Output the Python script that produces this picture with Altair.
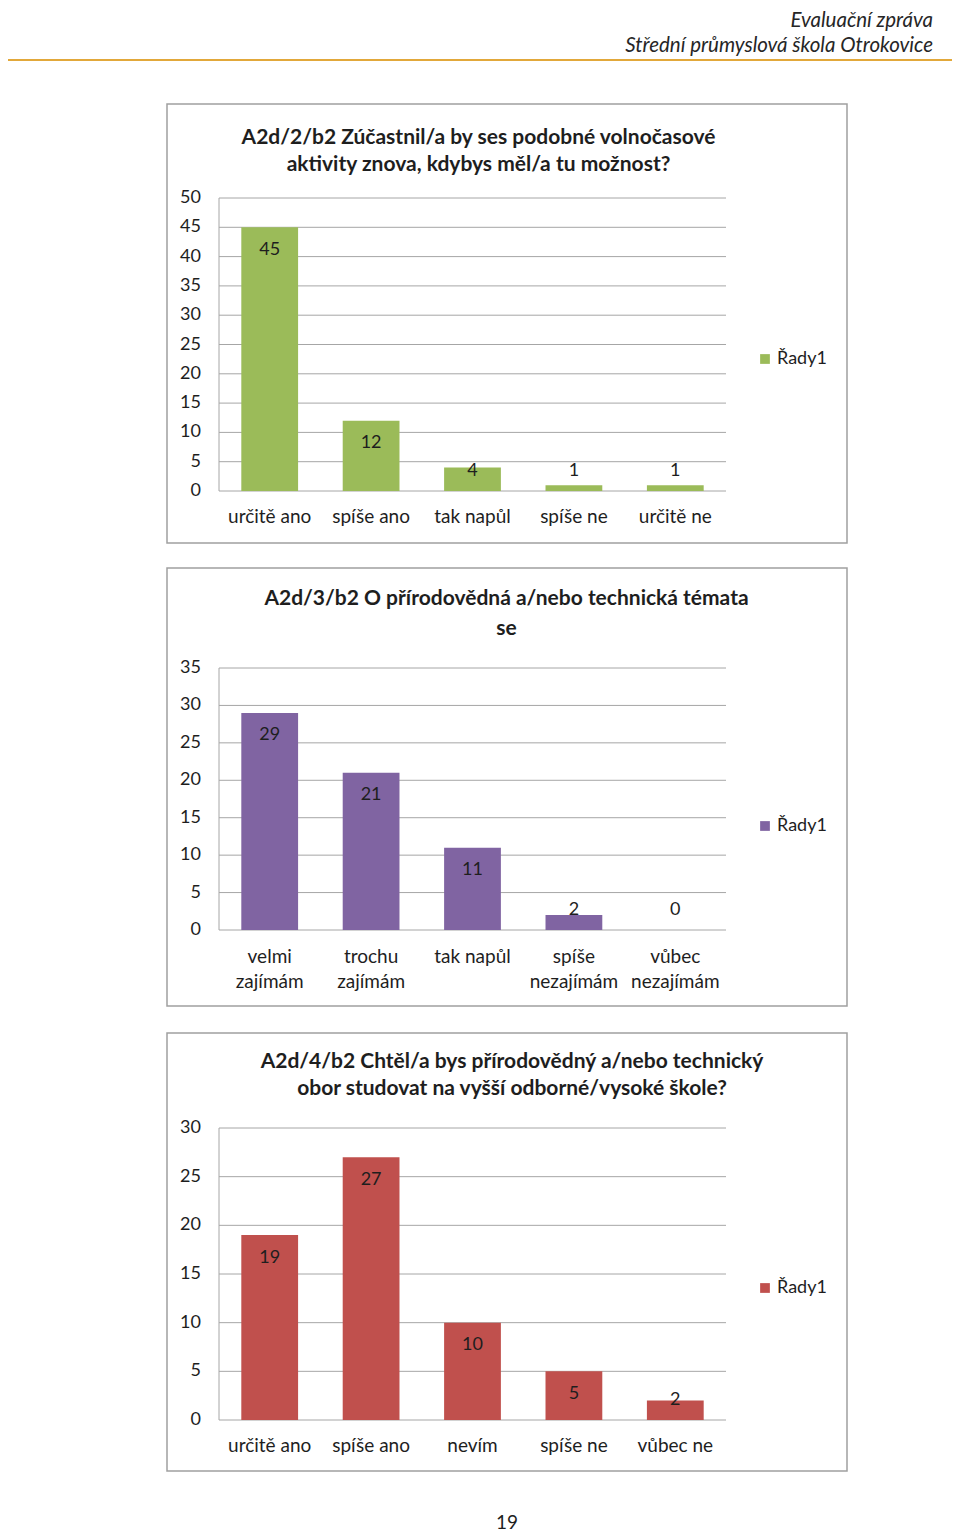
import altair as alt
import pandas as pd

OFF = 8          # page margin (page px -> chart px)
FONT = "Lato"
TXT = "#1e1e1e"
GRID = "#A6A6A6"
W, H = 944, 1524

# ---------------- data ----------------
cats1 = ["určitě ano", "spíše ano", "tak napůl", "spíše ne", "určitě ne"]
vals1 = [45, 12, 4, 1, 1]
ticks1 = [0, 5, 10, 15, 20, 25, 30, 35, 40, 45, 50]
title1 = ["A2d/2/b2 Zúčastnil/a by ses podobné volnočasové",
          "aktivity znova, kdybys měl/a tu možnost?"]

cats2 = ["velmi zajímám", "trochu zajímám", "tak napůl", "spíše nezajímám", "vůbec nezajímám"]
line1_2 = ["velmi", "trochu", "tak napůl", "spíše", "vůbec"]
line2_2 = ["zajímám", "zajímám", "", "nezajímám", "nezajímám"]
vals2 = [29, 21, 11, 2, 0]
ticks2 = [0, 5, 10, 15, 20, 25, 30, 35]
title2 = ["A2d/3/b2 O přírodovědná a/nebo technická témata", "se"]

cats3 = ["určitě ano", "spíše ano", "nevím", "spíše ne", "vůbec ne"]
vals3 = [19, 27, 10, 5, 2]
ticks3 = [0, 5, 10, 15, 20, 25, 30]
title3 = ["A2d/4/b2 Chtěl/a bys přírodovědný a/nebo technický",
          "obor studovat na vyšší odborné/vysoké škole?"]

series_name = "Řady1"
header_lines = ["Evaluační zpráva", "Střední průmyslová škola Otrokovice"]
page_no = "19"

one = pd.DataFrame({"a": [0]})


def panel(cats, l1, l2, vals, ticks, ymax, color, title_lines, g):
    ysc = alt.Scale(domain=[0, ymax], range=[g["y0"] - OFF, g["y1"] - OFF], nice=False, zero=True)
    xsc = alt.Scale(domain=cats, range=[g["x0"] - OFF, g["x1"] - OFF],
                    paddingInner=0.44, paddingOuter=0.22)
    k = (g["y0"] - g["y1"]) / ymax
    df = pd.DataFrame({"cat": cats, "value": vals, "l1": l1, "l2": l2,
                       "series": [series_name] * len(cats)})
    tdf = pd.DataFrame({"t": ticks})

    border = alt.Chart(one).mark_rect(fill="white", stroke="#A0A0A0", strokeWidth=1.5).encode(
        x=alt.value(g["bx0"] - OFF), x2=alt.value(g["bx1"] - OFF),
        y=alt.value(g["by0"] - OFF), y2=alt.value(g["by1"] - OFF))
    grid = alt.Chart(tdf).mark_rule(color=GRID, strokeWidth=1).encode(
        y=alt.Y("t:Q", scale=ysc, axis=None),
        x=alt.value(g["x0"] - OFF), x2=alt.value(g["x1"] - OFF))
    yline = alt.Chart(one).mark_rule(color=GRID, strokeWidth=1).encode(
        x=alt.value(g["x0"] - OFF),
        y=alt.value(g["y1"] - OFF), y2=alt.value(g["y0"] - OFF))
    ylabels = alt.Chart(tdf).mark_text(align="right", baseline="middle", font=FONT,
                                       fontSize=18, color=TXT).encode(
        y=alt.Y("t:Q", scale=ysc, axis=None), x=alt.value(g["lx"] - OFF), text="t:Q")
    bars = alt.Chart(df).mark_bar().encode(
        x=alt.X("cat:N", scale=xsc, axis=None, sort=None),
        y=alt.Y("value:Q", scale=ysc, axis=None),
        color=alt.Color("series:N", scale=alt.Scale(domain=[series_name], range=[color]),
                        legend=alt.Legend(orient="none", legendX=g["legx"] - OFF,
                                          legendY=g["legy"] - OFF - 9, title=None,
                                          symbolType="square", symbolSize=95,
                                          symbolStrokeWidth=0, labelFont=FONT,
                                          labelFontSize=18, labelColor=TXT,
                                          labelOffset=3, padding=0)))
    vlabels = alt.Chart(df).transform_calculate(
        lab=f"max(datum.value - {22.5 / k}, {20 / k})"
    ).mark_text(baseline="middle", font=FONT, fontSize=18, color=TXT).encode(
        x=alt.X("cat:N", scale=xsc, axis=None, sort=None),
        y=alt.Y("lab:Q", scale=ysc, axis=None), text="value:Q")
    xl1 = alt.Chart(df).mark_text(baseline="middle", font=FONT, fontSize=19, color=TXT).encode(
        x=alt.X("cat:N", scale=xsc, axis=None, sort=None),
        y=alt.value(g["xly"] - OFF), text="l1:N")
    xl2 = alt.Chart(df).mark_text(baseline="middle", font=FONT, fontSize=19, color=TXT).encode(
        x=alt.X("cat:N", scale=xsc, axis=None, sort=None),
        y=alt.value(g["xly"] + 25 - OFF), text="l2:N")
    title = alt.Chart(one).mark_text(text=title_lines, lineHeight=g["tlh"], align="center",
                                     baseline="middle", font=FONT, fontSize=21,
                                     fontWeight="bold", color=TXT).encode(
        x=alt.value(g["tcx"] - OFF), y=alt.value(g["tcy"] - OFF))
    return alt.layer(border, grid, yline, ylabels, bars, vlabels, xl1, xl2, title)


base = dict(bx0=167, bx1=847, x0=219, x1=726, lx=201, legx=756)
g1 = dict(base, by0=104, by1=543, y1=198, y0=491, xly=517, legy=359,
          tcx=478.5, tcy=138, tlh=27)
g2 = dict(base, by0=568, by1=1006, y1=668, y0=930, xly=957, legy=826,
          tcx=506.5, tcy=599, tlh=30)
g3 = dict(base, by0=1033, by1=1471, y1=1128, y0=1420, xly=1446, legy=1288,
          tcx=512, tcy=1062, tlh=27)

p1 = panel(cats1, cats1, [""] * 5, vals1, ticks1, 50, "#9BBB59", title1, g1)
p2 = panel(cats2, line1_2, line2_2, vals2, ticks2, 35, "#8064A2", title2, g2)
p3 = panel(cats3, cats3, [""] * 5, vals3, ticks3, 30, "#C0504D", title3, g3)

header = alt.Chart(one).mark_text(text=header_lines, lineHeight=25, align="right",
                                  baseline="middle", font=FONT, fontSize=20.5,
                                  fontStyle="italic", color="#262626").encode(
    x=alt.value(933 - OFF), y=alt.value(21 - OFF))
hline = alt.Chart(one).mark_rule(color="#E2A83A", strokeWidth=2).encode(
    x=alt.value(0), x2=alt.value(W), y=alt.value(60 - OFF))
footer = alt.Chart(one).mark_text(text=page_no, align="center", baseline="middle",
                                  font=FONT, fontSize=19, color=TXT).encode(
    x=alt.value(507 - OFF), y=alt.value(1523 - OFF))

chart = alt.layer(header, hline, p1, p2, p3, footer).resolve_scale(
    x="independent", y="independent", color="independent"
).resolve_legend(color="independent").properties(
    width=W, height=H, padding=0, autosize="none", background="white"
).configure_view(stroke=None)

chart.save("out.html", embed_options={"renderer": "svg", "actions": False})
